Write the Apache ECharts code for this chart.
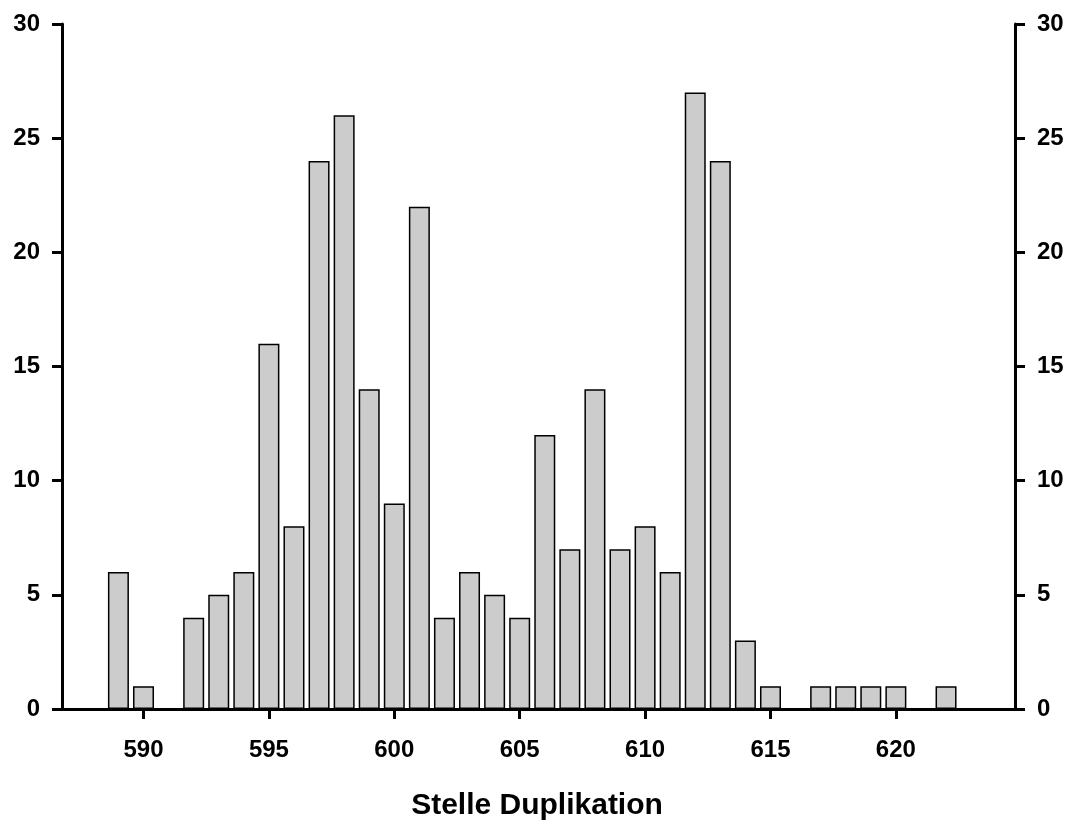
<!DOCTYPE html>
<html>
<head>
<meta charset="utf-8">
<script src="https://cdn.jsdelivr.net/npm/echarts@6/dist/echarts.min.js"></script>
<style>html,body{margin:0;padding:0;background:#fff}#c{width:1074px;height:822px}</style>
</head>
<body>
<div id="c"></div>
<script>
const positions = [589,590,591,592,593,594,595,596,597,598,599,600,601,602,603,604,605,606,607,608,609,610,611,612,613,614,615,616,617,618,619,620,621,622];
const counts    = [6,1,0,4,5,6,16,8,24,26,14,9,22,4,6,5,4,12,7,14,7,8,6,27,24,3,1,0,1,1,1,1,0,1];
const xTicks = [590,595,600,605,610,615,620];
const xTitle = 'Stelle Duplikation';

const data = positions.map((p,i)=>[p,counts[i]]).filter(d=>d[1]>0);
const font = '"Liberation Sans", Arial, sans-serif';
const chart = echarts.init(document.getElementById('c'), null, {renderer:'canvas'});
const yCommon = {
  type:'value', min:0, max:30, interval:5,
  axisLine:{show:true, lineStyle:{color:'#000', width:3}},
  axisTick:{show:true, inside:false, length:10, lineStyle:{color:'#000', width:3}},
  splitLine:{show:false},
  axisLabel:{color:'#000', fontSize:24, fontWeight:'bold', fontFamily:font, margin:22}
};
chart.setOption({
  animation:false,
  backgroundColor:'#fff',
  title:{text:xTitle, left:'center', top:786, textStyle:{fontSize:30, fontWeight:'bold', color:'#000', fontFamily:font}},
  grid:{left:62, right:59, top:24, bottom:113, containLabel:false},
  xAxis:{
    type:'value', min:586.75, max:624.75,
    axisLine:{show:true, onZero:false, lineStyle:{color:'#000', width:3}},
    axisTick:{show:true, inside:false, length:10, customValues:xTicks, lineStyle:{color:'#000', width:3}},
    splitLine:{show:false},
    axisLabel:{color:'#000', fontSize:24, fontWeight:'bold', fontFamily:font, margin:29, customValues:xTicks}
  },
  yAxis:[
    Object.assign({position:'left'}, yCommon),
    Object.assign({position:'right'}, yCommon)
  ],
  series:[{
    type:'bar', data:data, barWidth:21, yAxisIndex:0,
    itemStyle:{color:'#cccccc', borderColor:'#000', borderWidth:1.5},
    emphasis:{disabled:true}
  }]
});
</script>
</body>
</html>
